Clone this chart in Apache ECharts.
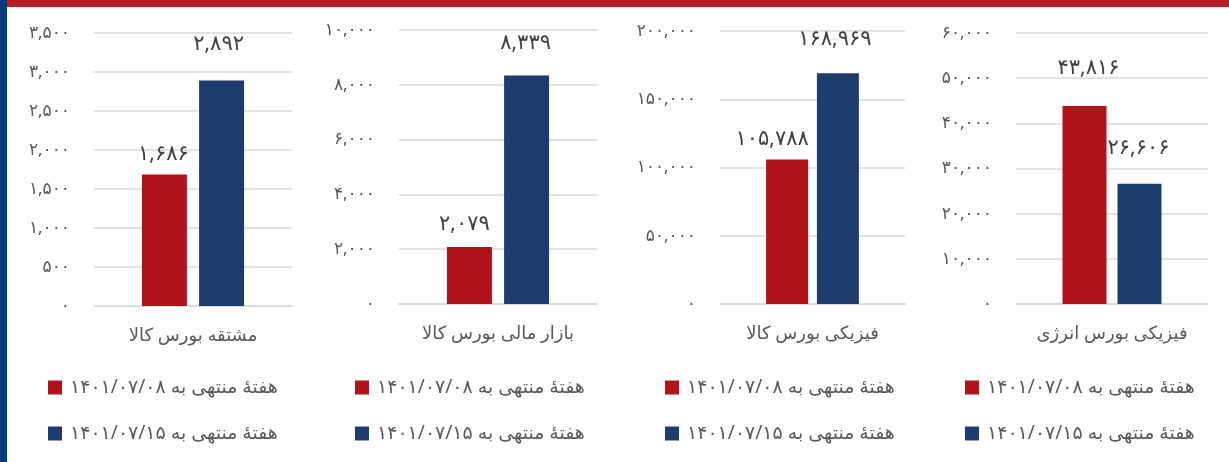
<!DOCTYPE html>
<html><head><meta charset="utf-8">
<script src="https://cdn.jsdelivr.net/npm/echarts@6/dist/echarts.min.js"></script>
<style>html,body{margin:0;padding:0;background:#fff}#c{width:1229px;height:462px}</style>
</head><body><div id="c"></div>
<script>
const categories = ['مشتقه بورس کالا', 'بازار مالی بورس کالا', 'فیزیکی بورس کالا', 'فیزیکی بورس انرژی'];
const seriesNames = ['هفتهٔ منتهی به ۱۴۰۱/۰۷/۰۸', 'هفتهٔ منتهی به ۱۴۰۱/۰۷/۱۵'];
const week0708 = [1686, 2079, 105788, 43816];
const week0715 = [2892, 8339, 168969, 26606];
const axisMax = [3500, 10000, 200000, 60000];
const axisInterval = [500, 2000, 50000, 10000];

// layout (pixels) – not data
const grids = [
  {left: 94, top: 33, width: 198, height: 273},
  {left: 399, top: 30, width: 198, height: 274},
  {left: 720, top: 31, width: 185, height: 273},
  {left: 1016, top: 33, width: 192, height: 271}
];
const barW = [45, 45, 42, 44];
const barGapPct = ['27%', '27%', '21%', '25%'];
const labelOffsets = [
  [[-1, -10], [-3, -26]],
  [[-5, -13], [-1, -22]],
  [[-15, -10], [-3, -24]],
  [[4, -28], [-1, -25]]
];
const legendLeft = [43, 350, 660, 960];

const FA = '۰۱۲۳۴۵۶۷۸۹';
function toFa(n) {
  return String(n).replace(/\B(?=(\d{3})+(?!\d))/g, ',').replace(/\d/g, d => FA[d]);
}
const FONT = 'Noto Sans, DejaVu Sans, sans-serif';
const RED = '#B01319', BLUE = '#1F3C6F', TXT = '#595959', GRID = '#D9D9D9';

const option = {
  animation: false,
  textStyle: {fontFamily: FONT},
  graphic: [
    {type: 'rect', shape: {x: 0, y: 0, width: 7, height: 462}, style: {fill: '#063C7A'}, z: 10},
    {type: 'rect', shape: {x: 7, y: 0, width: 1222, height: 7}, style: {fill: '#B01E24'}, z: 10}
  ],
  grid: grids,
  xAxis: grids.map((g, i) => ({
    type: 'category', gridIndex: i, data: [categories[i]],
    axisLine: {lineStyle: {color: GRID, width: 1.5}}, axisTick: {show: false},
    axisLabel: {color: TXT, fontSize: 18, margin: 21, fontFamily: FONT}
  })),
  yAxis: grids.map((g, i) => ({
    type: 'value', gridIndex: i, min: 0, max: axisMax[i], interval: axisInterval[i],
    axisLine: {show: false}, axisTick: {show: false},
    splitLine: {lineStyle: {color: GRID, width: 1.5}},
    axisLabel: {color: TXT, fontSize: 17, margin: 24, fontFamily: FONT, formatter: v => toFa(v)}
  })),
  legend: grids.map((g, i) => ({
    left: legendLeft[i], top: 373, orient: 'vertical', icon: 'rect',
    itemWidth: 14, itemHeight: 14, itemGap: 27, selectedMode: false,
    data: seriesNames,
    textStyle: {color: TXT, fontSize: 19, lineHeight: 14, fontFamily: FONT, padding: [0, 0, 0, 3]}
  })),
  series: []
};
[week0708, week0715].forEach((arr, s) => {
  arr.forEach((v, i) => {
    option.series.push({
      type: 'bar', name: seriesNames[s], xAxisIndex: i, yAxisIndex: i,
      data: [v], barWidth: barW[i], barGap: barGapPct[i],
      itemStyle: {color: s === 0 ? RED : BLUE},
      label: {
        show: true, position: 'top', distance: 0, offset: labelOffsets[i][s],
        color: '#404040', fontSize: 21, fontFamily: FONT, formatter: p => toFa(p.value)
      }
    });
  });
});
echarts.init(document.getElementById('c')).setOption(option);
</script></body></html>
